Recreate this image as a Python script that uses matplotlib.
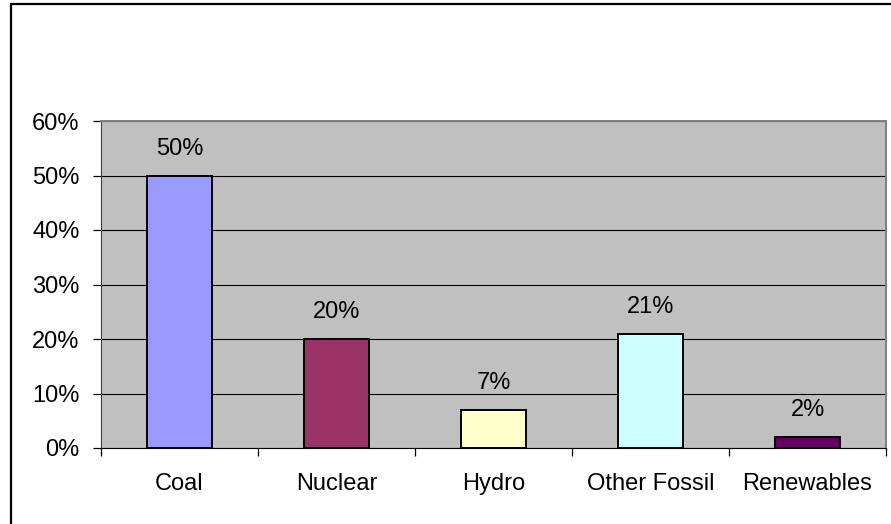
import matplotlib
matplotlib.use("Agg")
import matplotlib.pyplot as plt
from matplotlib.patches import Rectangle
import numpy as np

# data
sources = ["Coal", "Nuclear", "Hydro", "Other Fossil", "Renewables"]
shares = [50, 20, 7, 21, 2]
bar_colors = ["#9999FF", "#993366", "#FFFFCC", "#CCFFFF", "#660066"]
yticks = [0, 10, 20, 30, 40, 50, 60]

plt.rcParams['font.family'] = ['Liberation Sans', 'DejaVu Sans']

W, H = 891, 524
fig = plt.figure(figsize=(W / 100, H / 100), dpi=100)

# outer chart border (cropped on the right and bottom in the reference)
fig.patches.append(Rectangle((11 / W, -0.2), 2.0, 1.2 - 3.5 / H,
                             transform=fig.transFigure, fill=False,
                             edgecolor="black", linewidth=1.6))

ax = fig.add_axes([101 / W, (H - 448) / H, 785 / W, 327 / H])
ax.set_facecolor("#C0C0C0")

x = np.arange(len(sources))
ax.bar(x, shares, width=0.41, color=bar_colors, edgecolor="black",
       linewidth=1.4, zorder=3)

for xi, v in zip(x, shares):
    ax.annotate("{}%".format(v), (xi, v), xytext=(0, 11.5),
                textcoords="offset points", ha="center", va="bottom",
                fontsize=17, zorder=4)

ax.set_xlim(-0.5, len(sources) - 0.5)
ax.set_ylim(0, 60)
ax.set_yticks(yticks)
ax.set_yticklabels(["{}%".format(t) for t in yticks], fontsize=17)
ax.yaxis.grid(True, color="black", linewidth=0.8, zorder=1)
ax.set_axisbelow(True)

# category ticks sit between bars, labels in the middle
ax.set_xticks(np.arange(len(sources) + 1) - 0.5)
ax.set_xticklabels([])
ax.set_xticks(x, minor=True)
ax.set_xticklabels(sources, minor=True, fontsize=17)
ax.tick_params(axis="x", which="major", length=6, width=0.9, color="black")
ax.tick_params(axis="x", which="minor", length=0, pad=18)
ax.tick_params(axis="y", length=6, width=0.9, color="black", pad=9.5)

for side in ["top", "right"]:
    ax.spines[side].set_color("#808080")
    ax.spines[side].set_linewidth(1.4)
ax.spines["left"].set_color("#404040")
ax.spines["bottom"].set_color("black")

fig.savefig("out.png", dpi=100)
